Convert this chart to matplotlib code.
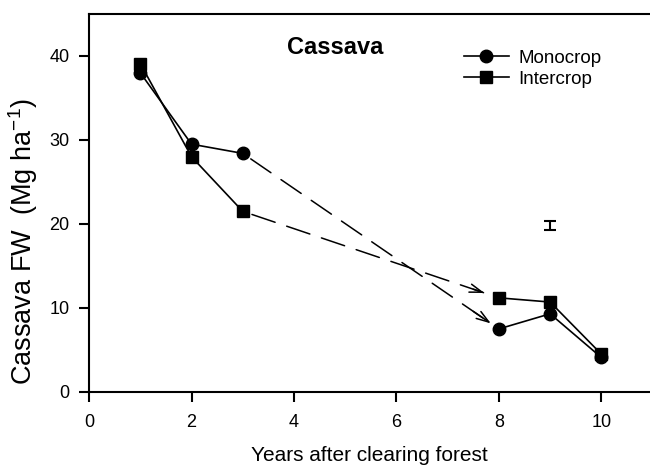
import numpy as np
import matplotlib
matplotlib.use("Agg")
import matplotlib.pyplot as plt

plt.rcParams['font.family'] = ['Liberation Sans', 'DejaVu Sans']
plt.rcParams['mathtext.fontset'] = 'custom'
plt.rcParams['mathtext.rm'] = 'Liberation Sans'
plt.rcParams['mathtext.default'] = 'regular'

years = [1, 2, 3, 8, 9, 10]
monocrop = [38.0, 29.5, 28.4, 7.5, 9.3, 4.1]
intercrop = [39.1, 28.0, 21.5, 11.2, 10.7, 4.5]
lsd_x, lsd_y, lsd_err = 9, 19.8, 0.5

fig = plt.figure(figsize=(6.5, 4.66), dpi=100)
ax = fig.add_axes([0.137, 0.159, 0.863, 0.811])

def draw(y, marker, ms, label, shrink):
    ax.plot(years[:3], y[:3], color='black', lw=1.2, marker=marker, ms=ms, label=label)
    ax.plot(years[3:], y[3:], color='black', lw=1.2, marker=marker, ms=ms)
    # dashed gap between year 3 and year 8, ending with an open arrow head
    p0 = np.array([years[2], y[2]])
    p1 = np.array([years[3], y[3]])
    ax.annotate('', xy=p1, xytext=p0,
                arrowprops=dict(arrowstyle='-', color='black', lw=1.1,
                                linestyle=(0, (16, 8)), shrinkA=7, shrinkB=shrink))
    ax.annotate('', xy=p1, xytext=p0 + 0.9 * (p1 - p0),
                arrowprops=dict(arrowstyle='->,head_length=0.9,head_width=0.3',
                                color='black', lw=1.1, shrinkA=0, shrinkB=shrink))

draw(monocrop, 'o', 9, 'Monocrop', 7)
draw(intercrop, 's', 8, 'Intercrop', 11)

ax.errorbar([lsd_x], [lsd_y], yerr=[lsd_err], fmt='none', ecolor='black',
            elinewidth=1.5, capsize=4, capthick=1.5)

ax.text(4.8, 41, 'Cassava', fontsize=17, fontweight='bold', ha='center', va='center')

ax.set_xlim(0, 10.95)
ax.set_ylim(0, 45)
ax.set_xticks([0, 2, 4, 6, 8, 10])
ax.set_yticks([0, 10, 20, 30, 40])
ax.spines['right'].set_visible(False)
for s in ['left', 'bottom', 'top']:
    ax.spines[s].set_linewidth(1.5)
ax.tick_params(direction='out', length=7, width=1.5, labelsize=13, pad=9)
ax.tick_params(axis='y', pad=7)

ax.set_xlabel('Years after clearing forest', fontsize=15, labelpad=11)
fig.text(23 / 650, 1 - 242 / 466, 'Cassava FW  (Mg ha$^{-1}$)', fontsize=19.5,
         rotation=90, ha='center', va='center')

ax.legend(loc='upper left', bbox_to_anchor=(0.655, 0.925), frameon=False,
          fontsize=13.5, handlelength=2.4, handletextpad=0.5, labelspacing=0.2,
          borderaxespad=0)

fig.savefig('out.png', dpi=100)
